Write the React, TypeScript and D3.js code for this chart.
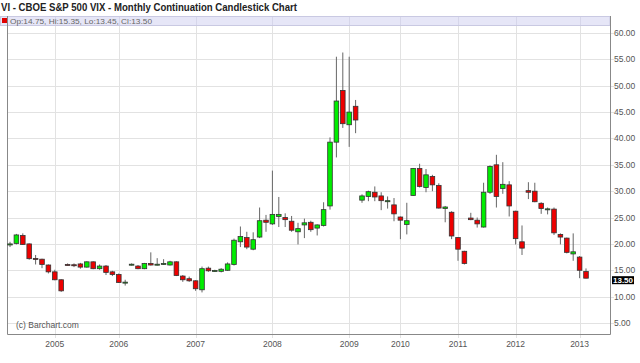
// VIX monthly continuation candlestick chart
import React, { useEffect, useRef } from 'react';
import * as d3 from 'd3';

const opens = [
  19.8, 20.1, 21.6, 20.0, 17.25, 17.1, 16.0, 14.7, 13.2, 16.1,
  16.05, 16.2, 15.6, 16.6, 15.3, 15.8, 14.7, 14.2, 12.65, 16.1,
  15.8, 15.3, 16.3, 16.05, 16.2, 16.0, 16.6, 13.9, 13.4, 13.0,
  11.3, 15.4, 14.9, 14.8, 15.0, 16.1, 20.4, 21.2, 19.0, 21.3,
  24.5, 23.8, 25.2, 25.0, 24.3, 22.3, 23.6, 24.1, 23.0, 23.5,
  27.2, 39.3, 49.1, 42.6, 46.1, 28.3, 29.0, 29.8, 29.1, 28.0,
  27.4, 25.1, 23.7, 29.2, 34.3, 30.7, 32.8, 31.1, 26.7, 26.0,
  21.2, 18.6, 24.9, 24.5, 23.2, 29.8, 35.0, 30.5, 31.2, 26.2,
  20.4, 30.1, 30.0, 27.7, 26.6, 26.6, 21.8, 21.1, 18.1, 17.5,
  14.75,
];
const highs = [
  20.4, 21.9, 22.0, 20.1, 17.9, 17.2, 16.1, 15.1, 13.3, 16.3,
  16.3, 16.4, 16.7, 16.7, 16.1, 16.0, 14.9, 14.4, 13.2, 16.3,
  16.0, 16.4, 18.4, 17.3, 17.1, 16.8, 16.7, 14.1, 13.8, 13.1,
  15.7, 15.7, 15.1, 15.4, 16.5, 21.0, 23.3, 22.3, 22.2, 26.9,
  25.5, 33.9, 28.9, 25.8, 25.3, 24.0, 24.8, 24.4, 23.7, 27.9,
  40.2, 55.5, 56.3, 55.5, 47.3, 29.4, 30.1, 30.9, 29.8, 29.0,
  28.7, 25.2, 27.8, 34.4, 35.2, 34.2, 33.1, 31.5, 27.2, 26.2,
  21.3, 18.7, 25.9, 25.0, 31.6, 34.9, 36.9, 35.5, 31.9, 26.3,
  23.5, 31.7, 31.6, 27.9, 26.9, 26.9, 22.0, 21.2, 22.0, 17.7,
  15.35,
];
const lows = [
  19.4, 19.9, 19.8, 17.0, 16.1, 15.4, 14.4, 13.1, 10.9, 15.9,
  15.6, 15.3, 15.5, 15.2, 15.1, 14.1, 13.9, 12.6, 12.1, 15.9,
  15.2, 15.2, 15.9, 15.9, 16.0, 15.9, 13.9, 12.8, 12.8, 11.1,
  10.8, 14.7, 14.7, 14.6, 14.9, 15.9, 19.4, 19.0, 18.8, 21.1,
  22.3, 23.6, 23.2, 23.2, 22.3, 19.9, 21.1, 22.3, 21.6, 23.3,
  26.5, 36.4, 42.0, 38.4, 41.0, 27.8, 28.1, 28.1, 26.4, 26.7,
  24.3, 20.9, 21.8, 29.1, 30.7, 29.8, 30.0, 26.7, 24.1, 20.9,
  16.8, 16.1, 24.5, 23.1, 23.1, 29.5, 26.9, 29.5, 25.2, 19.9,
  17.9, 28.5, 27.9, 25.7, 25.6, 21.7, 19.9, 18.2, 16.8, 13.5,
  13.45,
];
const closes = [
  20.0, 21.7, 19.9, 17.2, 17.15, 16.1, 14.7, 13.2, 11.1, 16.0,
  15.95, 15.6, 16.6, 15.3, 15.8, 14.6, 14.2, 12.7, 12.75, 16.15,
  15.3, 16.3, 16.0, 16.15, 16.3, 16.6, 14.0, 13.2, 13.0, 11.5,
  15.3, 14.9, 14.95, 15.2, 16.2, 20.7, 21.4, 19.4, 20.8, 24.4,
  24.1, 25.6, 25.6, 24.6, 22.6, 22.9, 24.0, 22.7, 23.6, 26.5,
  39.3, 47.1, 42.8, 45.0, 43.5, 29.1, 29.9, 28.9, 28.2, 28.2,
  25.7, 24.5, 24.4, 34.3, 30.9, 33.1, 31.2, 26.8, 27.0, 21.5,
  19.0, 16.3, 24.6, 23.8, 29.8, 34.7, 29.0, 31.3, 27.2, 21.0,
  19.2, 29.8, 28.0, 26.7, 26.65, 22.1, 21.3, 18.4, 18.5, 15.0,
  13.5,
];

// bar index where each year gridline sits
const yearIndex = [7, 17, 29, 41, 53, 61, 70, 79, 89];
const yearLabels = ['2005', '2006', '2007', '2008', '2009', '2010', '2011', '2012', '2013'];
const priceTicks = [5, 10, 15, 20, 25, 30, 35, 40, 45, 50, 55, 60];

const last = { open: 14.75, high: 15.35, low: 13.45, close: 13.5 };

const W = 640;
const H = 363;

export default function App() {
  const svgRef = useRef<SVGSVGElement>(null);

  useEffect(() => {
    if (!svgRef.current) return;
    const svg = d3.select(svgRef.current);
    svg.selectAll('*').remove();

    const left = 7;
    const right = 610;
    const top = 16;
    const bottom = 334;

    const x = d3.scaleLinear().domain([0, opens.length - 1]).range([10, 586]);
    const y = d3.scaleLinear().domain([5, 60]).range([323, 33]);
    const font = 'Arial, "Liberation Sans", sans-serif';

    svg.append('rect').attr('width', W).attr('height', H).attr('fill', '#fff');

    // title
    svg.append('text')
      .attr('x', 1)
      .attr('y', 11)
      .attr('font-family', font)
      .attr('font-size', 10)
      .attr('font-weight', 'bold')
      .attr('fill', '#222')
      .attr('textLength', 296)
      .attr('lengthAdjust', 'spacingAndGlyphs')
      .text('VI - CBOE S&P 500 VIX - Monthly Continuation Candlestick Chart');

    // grid
    const grid = svg.append('g').attr('stroke', '#e2e2e2').attr('stroke-width', 1);
    priceTicks.forEach(t => {
      grid.append('line')
        .attr('x1', left).attr('x2', right + 4)
        .attr('y1', Math.round(y(t)) + 0.5).attr('y2', Math.round(y(t)) + 0.5);
    });
    yearIndex.forEach(i => {
      grid.append('line')
        .attr('x1', Math.round(x(i)) + 0.5).attr('x2', Math.round(x(i)) + 0.5)
        .attr('y1', top).attr('y2', bottom + 4);
    });

    // legend band
    svg.append('rect')
      .attr('x', 0.5).attr('y', top + 0.5)
      .attr('width', right - 0.5).attr('height', 9)
      .attr('fill', '#e6e6f7')
      .attr('stroke', '#c9c9e2');
    yearIndex.forEach(i => {
      svg.append('line')
        .attr('x1', Math.round(x(i)) + 0.5).attr('x2', Math.round(x(i)) + 0.5)
        .attr('y1', top + 1).attr('y2', top + 9)
        .attr('stroke', '#d6d6ea');
    });
    svg.append('rect')
      .attr('x', 2).attr('y', 18).attr('width', 5).attr('height', 5)
      .attr('fill', '#e00000');
    svg.append('text')
      .attr('x', 10).attr('y', 23.5)
      .attr('font-family', font).attr('font-size', 8).attr('fill', '#666')
      .attr('textLength', 142).attr('lengthAdjust', 'spacingAndGlyphs')
      .text(`Op:${last.open.toFixed(2)}, Hi:${last.high.toFixed(2)}, Lo:${last.low.toFixed(2)}, Cl:${last.close.toFixed(2)}`);

    // frame
    svg.append('path')
      .attr('d', `M${left + 0.5},${top} V${bottom + 0.5} H${right + 0.5} V${top}`)
      .attr('fill', 'none')
      .attr('stroke', '#888');

    // right axis labels
    priceTicks.forEach(t => {
      svg.append('text')
        .attr('x', 614).attr('y', y(t) + 3)
        .attr('font-family', font).attr('font-size', 8.5).attr('fill', '#555')
        .text(t.toFixed(2));
    });

    // year labels
    yearIndex.forEach((i, k) => {
      svg.append('text')
        .attr('x', x(i)).attr('y', 347)
        .attr('text-anchor', 'middle')
        .attr('font-family', font).attr('font-size', 8.5).attr('fill', '#555')
        .text(yearLabels[k]);
    });

    svg.append('text')
      .attr('x', 16).attr('y', 328)
      .attr('font-family', font).attr('font-size', 8.5).attr('fill', '#555')
      .text('(c) Barchart.com');

    // candles
    const bw = 4.6;
    const candles = svg.append('g');
    opens.forEach((o, i) => {
      const c = closes[i];
      const cx = x(i);
      candles.append('line')
        .attr('x1', cx).attr('x2', cx)
        .attr('y1', y(highs[i])).attr('y2', y(lows[i]))
        .attr('stroke', '#666').attr('stroke-width', 1);
      const yt = y(Math.max(o, c));
      const yb = y(Math.min(o, c));
      candles.append('rect')
        .attr('x', cx - bw / 2)
        .attr('y', yt)
        .attr('width', bw)
        .attr('height', Math.max(1, yb - yt))
        .attr('fill', c >= o ? '#00ee00' : '#ee0000')
        .attr('stroke', '#333')
        .attr('stroke-width', 0.8);
    });

    // last price marker
    const ly = y(last.close);
    svg.append('rect')
      .attr('x', 612).attr('y', ly - 2)
      .attr('width', 22).attr('height', 8)
      .attr('fill', '#000');
    svg.append('text')
      .attr('x', 613).attr('y', ly + 4.8)
      .attr('font-family', font).attr('font-size', 8).attr('font-weight', 'bold')
      .attr('fill', '#fff')
      .text(last.close.toFixed(2));
  }, []);

  return (
    <svg
      ref={svgRef}
      width={W}
      height={H}
      style={{ position: 'absolute', left: 0, top: 0, display: 'block' }}
    />
  );
}
